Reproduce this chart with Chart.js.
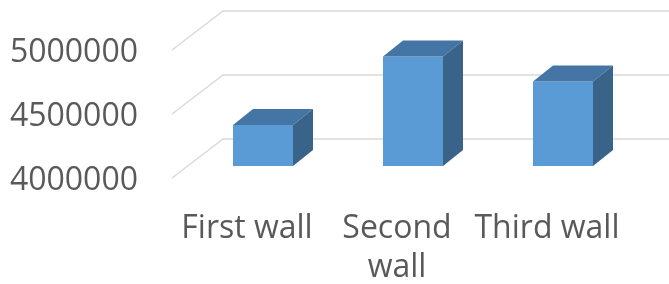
<!DOCTYPE html>
<html>
<head>
<meta charset="utf-8">
<script src="https://cdn.jsdelivr.net/npm/chart.js@4/dist/chart.umd.min.js"></script>
<style>
  html, body { margin: 0; padding: 0; background: #fff; }
  #wrap { width: 669px; height: 284px; position: relative; }
</style>
</head>
<body>
<div id="wrap"><canvas id="wall-chart"></canvas></div>
<script>
// values
const categories = ['First wall', ['Second', 'wall'], 'Third wall'];
const wallValues = [4320000, 4855000, 4660000];
const yMin = 4000000;
const yMax = 5000000;
const yStep = 500000;

(function () {
    const ctx = document.getElementById('wall-chart');
    const textColor = '#595959';
    const gridColor = '#d9d9d9';

    // fake 3d: the bars sit in a plane part way back into the floor
    const depth = { frontX: -16, frontY: 12, fullX: 51, fullY: -39, barX: 20, barY: -16 };

    const fake3d = {
        id: 'fake3d',
        beforeDatasetsDraw(chart) {
            const g = chart.ctx;
            const y = chart.scales.y;
            const left = chart.chartArea.left;
            g.save();
            g.strokeStyle = gridColor;
            g.lineWidth = 1.5;
            y.ticks.forEach(function (t) {
                const yp = y.getPixelForValue(t.value);
                const fx = left + depth.frontX, fy = yp + depth.frontY;
                const bx = fx + depth.fullX, by = fy + depth.fullY;
                g.beginPath();
                g.moveTo(fx, fy);
                g.lineTo(bx, by);
                g.lineTo(chart.width, by);
                g.stroke();
            });
            g.restore();
        },
        afterDatasetsDraw(chart) {
            const g = chart.ctx;
            const meta = chart.getDatasetMeta(0);
            g.save();
            meta.data.forEach(function (bar) {
                const l = bar.x - bar.width / 2, r = bar.x + bar.width / 2;
                const top = bar.y, base = bar.base;
                const dx = depth.barX, dy = depth.barY;
                // top face
                g.fillStyle = '#4475a5';
                g.beginPath();
                g.moveTo(l, top);
                g.lineTo(l + dx, top + dy);
                g.lineTo(r + dx, top + dy);
                g.lineTo(r, top);
                g.closePath();
                g.fill();
                // right face
                g.fillStyle = '#3a6389';
                g.beginPath();
                g.moveTo(r, top);
                g.lineTo(r + dx, top + dy);
                g.lineTo(r + dx, base + dy);
                g.lineTo(r, base);
                g.closePath();
                g.fill();
            });
            g.restore();
        }
    };

    const font = { family: "'Open Sans', sans-serif", size: 32 };

    new Chart(ctx, {
        type: 'bar',
        data: {
            labels: categories,
            datasets: [{
                data: wallValues,
                backgroundColor: '#5b9bd5',
                borderWidth: 0,
                barPercentage: 0.4,
                categoryPercentage: 1.0,
                base: yMin,
            }]
        },
        options: {
            responsive: true,
            maintainAspectRatio: false,
            animation: false,
            layout: { padding: { top: 38, right: 31, left: 0, bottom: 0 } },
            scales: {
                x: {
                    grid: { display: false, drawTicks: false },
                    border: { display: false },
                    ticks: {
                        color: textColor,
                        font: Object.assign({ lineHeight: 1.22 }, font),
                        padding: 43,
                        labelOffset: -16,
                        maxRotation: 0,
                        autoSkip: false,
                    },
                    afterFit(scale) {
                        scale.height = 118;
                        scale.paddingLeft = 0;
                        scale.paddingRight = 0;
                    },
                },
                y: {
                    min: yMin,
                    max: yMax,
                    grid: { display: false, drawTicks: false },
                    border: { display: false },
                    ticks: {
                        stepSize: yStep,
                        color: textColor,
                        font: font,
                        padding: 50,
                        labelOffset: 15,
                        callback: v => String(v),
                    },
                    afterFit(scale) {
                        scale.width = 188;
                        scale.paddingTop = 0;
                        scale.paddingBottom = 0;
                    },
                }
            },
            plugins: {
                legend: { display: false },
                tooltip: { enabled: false },
            }
        },
        plugins: [fake3d],
    });
})();
</script>
</body>
</html>
